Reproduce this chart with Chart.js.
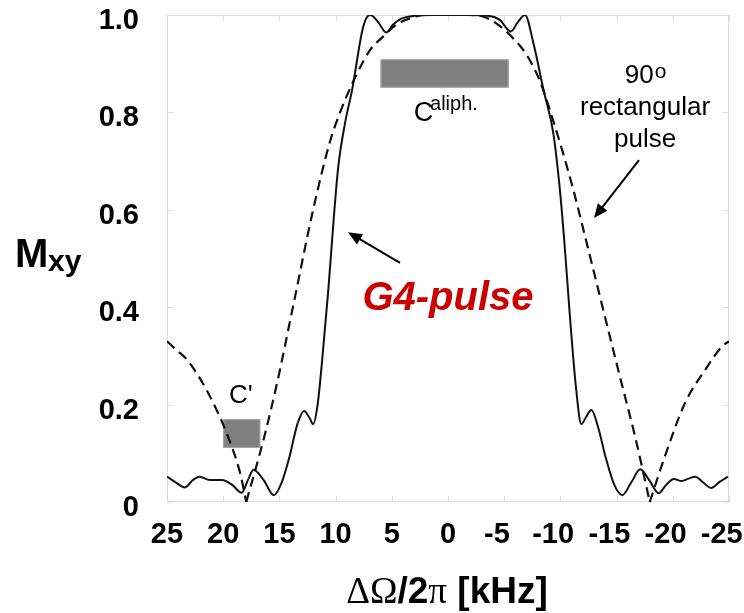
<!DOCTYPE html>
<html>
<head>
<meta charset="utf-8">
<script src="https://cdn.jsdelivr.net/npm/chart.js@4.4.1/dist/chart.umd.min.js"></script>
<style>
  html, body { margin: 0; padding: 0; background: #fff; }
  #wrap { width: 744px; height: 613px; }
</style>
</head>
<body>
<div id="wrap"><canvas id="mxy-chart" width="744" height="613"></canvas></div>
<script>
// offset frequency in kHz (axis runs 25 -> -25)
const xTickValues = [25, 20, 15, 10, 5, 0, -5, -10, -15, -20, -25];

// G4 pulse, solid line
const g4Freq = [25.0, 24.2, 23.4, 22.7, 22.1, 21.2, 20.1, 19.2, 18.35, 17.8, 17.3, 16.4, 15.5, 14.8, 14.1, 13.4, 12.8, 12.3, 12.0, 11.6, 11.2, 10.65, 10.2, 9.76, 9.16, 8.5, 7.68, 7.3, 6.9, 6.2, 5.5, 4.9, 4.2, 3.1, 1.5, 0, -1.5, -3.7, -4.6, -5.6, -6.2, -6.85, -7.6, -8.5, -9.37, -9.96, -10.4, -10.85, -11.4, -11.86, -12.3, -12.75, -13.4, -14.0, -14.8, -15.5, -16.3, -17.1, -17.9, -18.75, -19.4, -20.1, -20.8, -21.4, -22.0, -22.7, -23.4, -24.2, -24.9];
const g4Mxy = [0.052, 0.040, 0.030, 0.045, 0.052, 0.045, 0.045, 0.035, 0.019, 0.045, 0.066, 0.045, 0.014, 0.040, 0.093, 0.160, 0.187, 0.172, 0.160, 0.200, 0.290, 0.435, 0.572, 0.689, 0.778, 0.850, 0.962, 0.992, 1.0, 0.985, 0.964, 0.980, 0.992, 0.998, 1.0, 1.0, 1.0, 0.998, 0.990, 0.966, 0.985, 1.0, 0.942, 0.846, 0.757, 0.640, 0.520, 0.380, 0.232, 0.160, 0.175, 0.189, 0.150, 0.094, 0.035, 0.014, 0.040, 0.067, 0.045, 0.018, 0.035, 0.047, 0.043, 0.048, 0.052, 0.040, 0.029, 0.042, 0.052];

// 90 deg rectangular pulse, dashed line (three lobes, meeting at the zeros)
const rectOuterLeftFreq = [25.0, 24.2, 23.25, 22.1, 20.9, 19.7, 18.5, 17.95];
const rectOuterLeftMxy = [0.330, 0.313, 0.293, 0.255, 0.204, 0.142, 0.060, 0.0];
const rectCentralFreq = [17.95, 16.4, 15.2, 13.8, 12.0, 10.5, 9.6, 8.4, 6.94, 5.8, 4.6, 3.4, 2.0, 0, -2.0, -3.1, -4.3, -5.8, -7.0, -8.2, -9.25, -11.0, -12.5, -13.7, -15.2, -16.7, -17.95];
const rectCentralMxy = [0.0, 0.129, 0.245, 0.400, 0.600, 0.740, 0.800, 0.865, 0.928, 0.955, 0.980, 0.993, 1.0, 1.0, 1.0, 0.997, 0.983, 0.952, 0.918, 0.863, 0.791, 0.654, 0.517, 0.405, 0.266, 0.129, 0.0];
const rectOuterRightFreq = [-17.95, -19.3, -21.1, -22.9, -24.4, -25.0];
const rectOuterRightMxy = [0.0, 0.094, 0.204, 0.272, 0.320, 0.330];

// shaded chemical-shift ranges
const caliphBoxFreq = [6.0, -5.4];
const caliphBoxMxy = [0.851, 0.909];
const cPrimeBoxFreq = [20.0, 16.7];
const cPrimeBoxMxy = [0.111, 0.170];

const FONT = "'Liberation Sans', Arial, sans-serif";
const SERIF = "'Liberation Serif', 'Times New Roman', serif";

function toPoints(xs, ys) {
  return xs.map((x, i) => ({ x: x, y: ys[i] }));
}

function drawArrow(ctx, x1, y1, x2, y2) {
  const ang = Math.atan2(y2 - y1, x2 - x1);
  const len = 14;
  const half = 6;
  ctx.beginPath();
  ctx.moveTo(x1, y1);
  ctx.lineTo(x2 - Math.cos(ang) * len * 0.8, y2 - Math.sin(ang) * len * 0.8);
  ctx.stroke();
  ctx.beginPath();
  ctx.moveTo(x2, y2);
  ctx.lineTo(x2 - Math.cos(ang) * len - Math.sin(ang) * half, y2 - Math.sin(ang) * len + Math.cos(ang) * half);
  ctx.lineTo(x2 - Math.cos(ang) * len + Math.sin(ang) * half, y2 - Math.sin(ang) * len - Math.cos(ang) * half);
  ctx.closePath();
  ctx.fill();
}

function drawBox(ctx, x, y, freqs, mxys) {
  const x1 = x.getPixelForValue(freqs[0]);
  const x2 = x.getPixelForValue(freqs[1]);
  const y1 = y.getPixelForValue(mxys[1]);
  const y2 = y.getPixelForValue(mxys[0]);
  ctx.fillStyle = "#808080";
  ctx.fillRect(x1, y1, x2 - x1, y2 - y1);
  ctx.strokeStyle = "#a8a8a8";
  ctx.lineWidth = 1;
  ctx.strokeRect(x1 + 0.5, y1 + 0.5, x2 - x1 - 1, y2 - y1 - 1);
}

const decorations = {
  id: "decorations",
  beforeDatasetsDraw(chart) {
    const { ctx, chartArea: a, scales } = chart;
    const x = scales.x;
    const y = scales.y;
    ctx.save();
    // light frame with inward ticks
    ctx.strokeStyle = "#dedede";
    ctx.lineWidth = 1;
    ctx.strokeRect(a.left + 0.5, a.top + 0.5, a.width - 1, a.height - 1);
    ctx.beginPath();
    x.ticks.forEach((t) => {
      const px = Math.round(x.getPixelForValue(t.value)) + 0.5;
      ctx.moveTo(px, a.top);
      ctx.lineTo(px, a.top + 6);
      ctx.moveTo(px, a.bottom);
      ctx.lineTo(px, a.bottom - 6);
    });
    y.ticks.forEach((t) => {
      const py = Math.round(y.getPixelForValue(t.value)) + 0.5;
      ctx.moveTo(a.left, py);
      ctx.lineTo(a.left + 6, py);
      ctx.moveTo(a.right, py);
      ctx.lineTo(a.right - 6, py);
    });
    ctx.stroke();
    drawBox(ctx, x, y, caliphBoxFreq, caliphBoxMxy);
    drawBox(ctx, x, y, cPrimeBoxFreq, cPrimeBoxMxy);
    ctx.restore();
  },
  afterDatasetsDraw(chart) {
    const { ctx, scales } = chart;
    const x = scales.x;
    const y = scales.y;
    const px = (v) => x.getPixelForValue(v);
    const py = (v) => y.getPixelForValue(v);
    ctx.save();
    ctx.fillStyle = "#000";
    ctx.strokeStyle = "#000";
    ctx.textBaseline = "alphabetic";

    // C' label
    ctx.font = "26px " + FONT;
    ctx.textAlign = "center";
    ctx.fillText("C'", px(18.42), py(0.203));

    // C aliph.
    ctx.textAlign = "left";
    ctx.font = "27px " + FONT;
    ctx.fillText("C", px(3.05), py(0.782));
    ctx.font = "20px " + FONT;
    ctx.fillText("aliph.", px(1.6), py(0.805));

    // 90o rectangular pulse
    ctx.font = "26px " + FONT;
    const w90 = ctx.measureText("90").width;
    ctx.font = "21px " + FONT;
    const wo = ctx.measureText("o").width;
    const cx = px(-17.53);
    ctx.textAlign = "left";
    ctx.font = "26px " + FONT;
    ctx.fillText("90", cx - (w90 + wo) / 2, py(0.860));
    ctx.font = "21px " + FONT;
    ctx.fillText("o", cx - (w90 + wo) / 2 + w90 + 1, py(0.871));
    ctx.textAlign = "center";
    ctx.font = "26px " + FONT;
    ctx.fillText("rectangular", cx, py(0.795));
    ctx.fillText("pulse", cx, py(0.729));

    // G4-pulse
    ctx.fillStyle = "#cc0000";
    ctx.font = "italic bold 40px " + FONT;
    ctx.fillText("G4-pulse", px(0), py(0.394));

    // arrows
    ctx.fillStyle = "#000";
    ctx.lineWidth = 2;
    drawArrow(ctx, px(4.27), py(0.491), px(8.9), py(0.554));
    drawArrow(ctx, px(-16.99), py(0.702), px(-12.99), py(0.583));

    // axis titles
    ctx.textAlign = "left";
    ctx.font = "bold 40px " + FONT;
    ctx.fillText("M", 15, 267);
    ctx.font = "bold 30px " + FONT;
    ctx.fillText("xy", 48, 271);

    const parts = [
      { t: "\u0394\u03A9", f: "37px " + SERIF },
      { t: "/2", f: "bold 37px " + FONT },
      { t: "\u03C0", f: "37px " + SERIF },
      { t: " [kHz]", f: "bold 37px " + FONT },
    ];
    let total = 0;
    parts.forEach((p) => {
      ctx.font = p.f;
      p.w = ctx.measureText(p.t).width;
      total += p.w;
    });
    let sx = 447 - total / 2;
    parts.forEach((p) => {
      ctx.font = p.f;
      ctx.fillText(p.t, sx, 603);
      sx += p.w;
    });
    ctx.restore();
  },
};

const lineStyle = {
  borderColor: "#111",
  borderWidth: 2,
  pointRadius: 0,
  fill: false,
  cubicInterpolationMode: "monotone",
};
const dashStyle = Object.assign({}, lineStyle, { borderDash: [10, 6], borderWidth: 2.2 });

const ctx = document.getElementById("mxy-chart").getContext("2d");
new Chart(ctx, {
  type: "line",
  data: {
    datasets: [
      Object.assign({ label: "G4-pulse", data: toPoints(g4Freq, g4Mxy) }, lineStyle),
      Object.assign({ label: "90 rect", data: toPoints(rectOuterLeftFreq, rectOuterLeftMxy) }, dashStyle),
      Object.assign({ label: "90 rect", data: toPoints(rectCentralFreq, rectCentralMxy) }, dashStyle),
      Object.assign({ label: "90 rect", data: toPoints(rectOuterRightFreq, rectOuterRightMxy) }, dashStyle),
    ],
  },
  options: {
    responsive: false,
    devicePixelRatio: 1,
    animation: false,
    layout: { padding: { top: 15, right: 15, left: 0, bottom: 0 } },
    plugins: {
      legend: { display: false },
      tooltip: { enabled: false },
    },
    scales: {
      x: {
        type: "linear",
        reverse: true,
        min: -25,
        max: 25,
        grid: { display: false },
        border: { display: false },
        afterBuildTicks: (scale) => {
          scale.ticks = xTickValues.map((v) => ({ value: v }));
        },
        afterFit: (scale) => {
          scale.height = 111;
          scale.paddingLeft = 0;
          scale.paddingRight = 0;
        },
        ticks: {
          autoSkip: false,
          maxRotation: 0,
          padding: 8,
          color: "#000",
          font: { family: FONT, size: 29, weight: "bold" },
          callback: (v) => (v < 0 ? v + "\u2002" : String(v)),
        },
      },
      y: {
        min: 0,
        max: 1,
        grid: { display: false },
        border: { display: false },
        afterFit: (scale) => {
          scale.width = 167;
          scale.paddingTop = 0;
          scale.paddingBottom = 0;
        },
        ticks: {
          stepSize: 0.2,
          padding: 20,
          labelOffset: 6,
          color: "#000",
          font: { family: FONT, size: 29, weight: "bold" },
          callback: (v) => (v === 0 ? "0" : v.toFixed(1)),
        },
      },
    },
  },
  plugins: [decorations],
});
</script>
</body>
</html>
